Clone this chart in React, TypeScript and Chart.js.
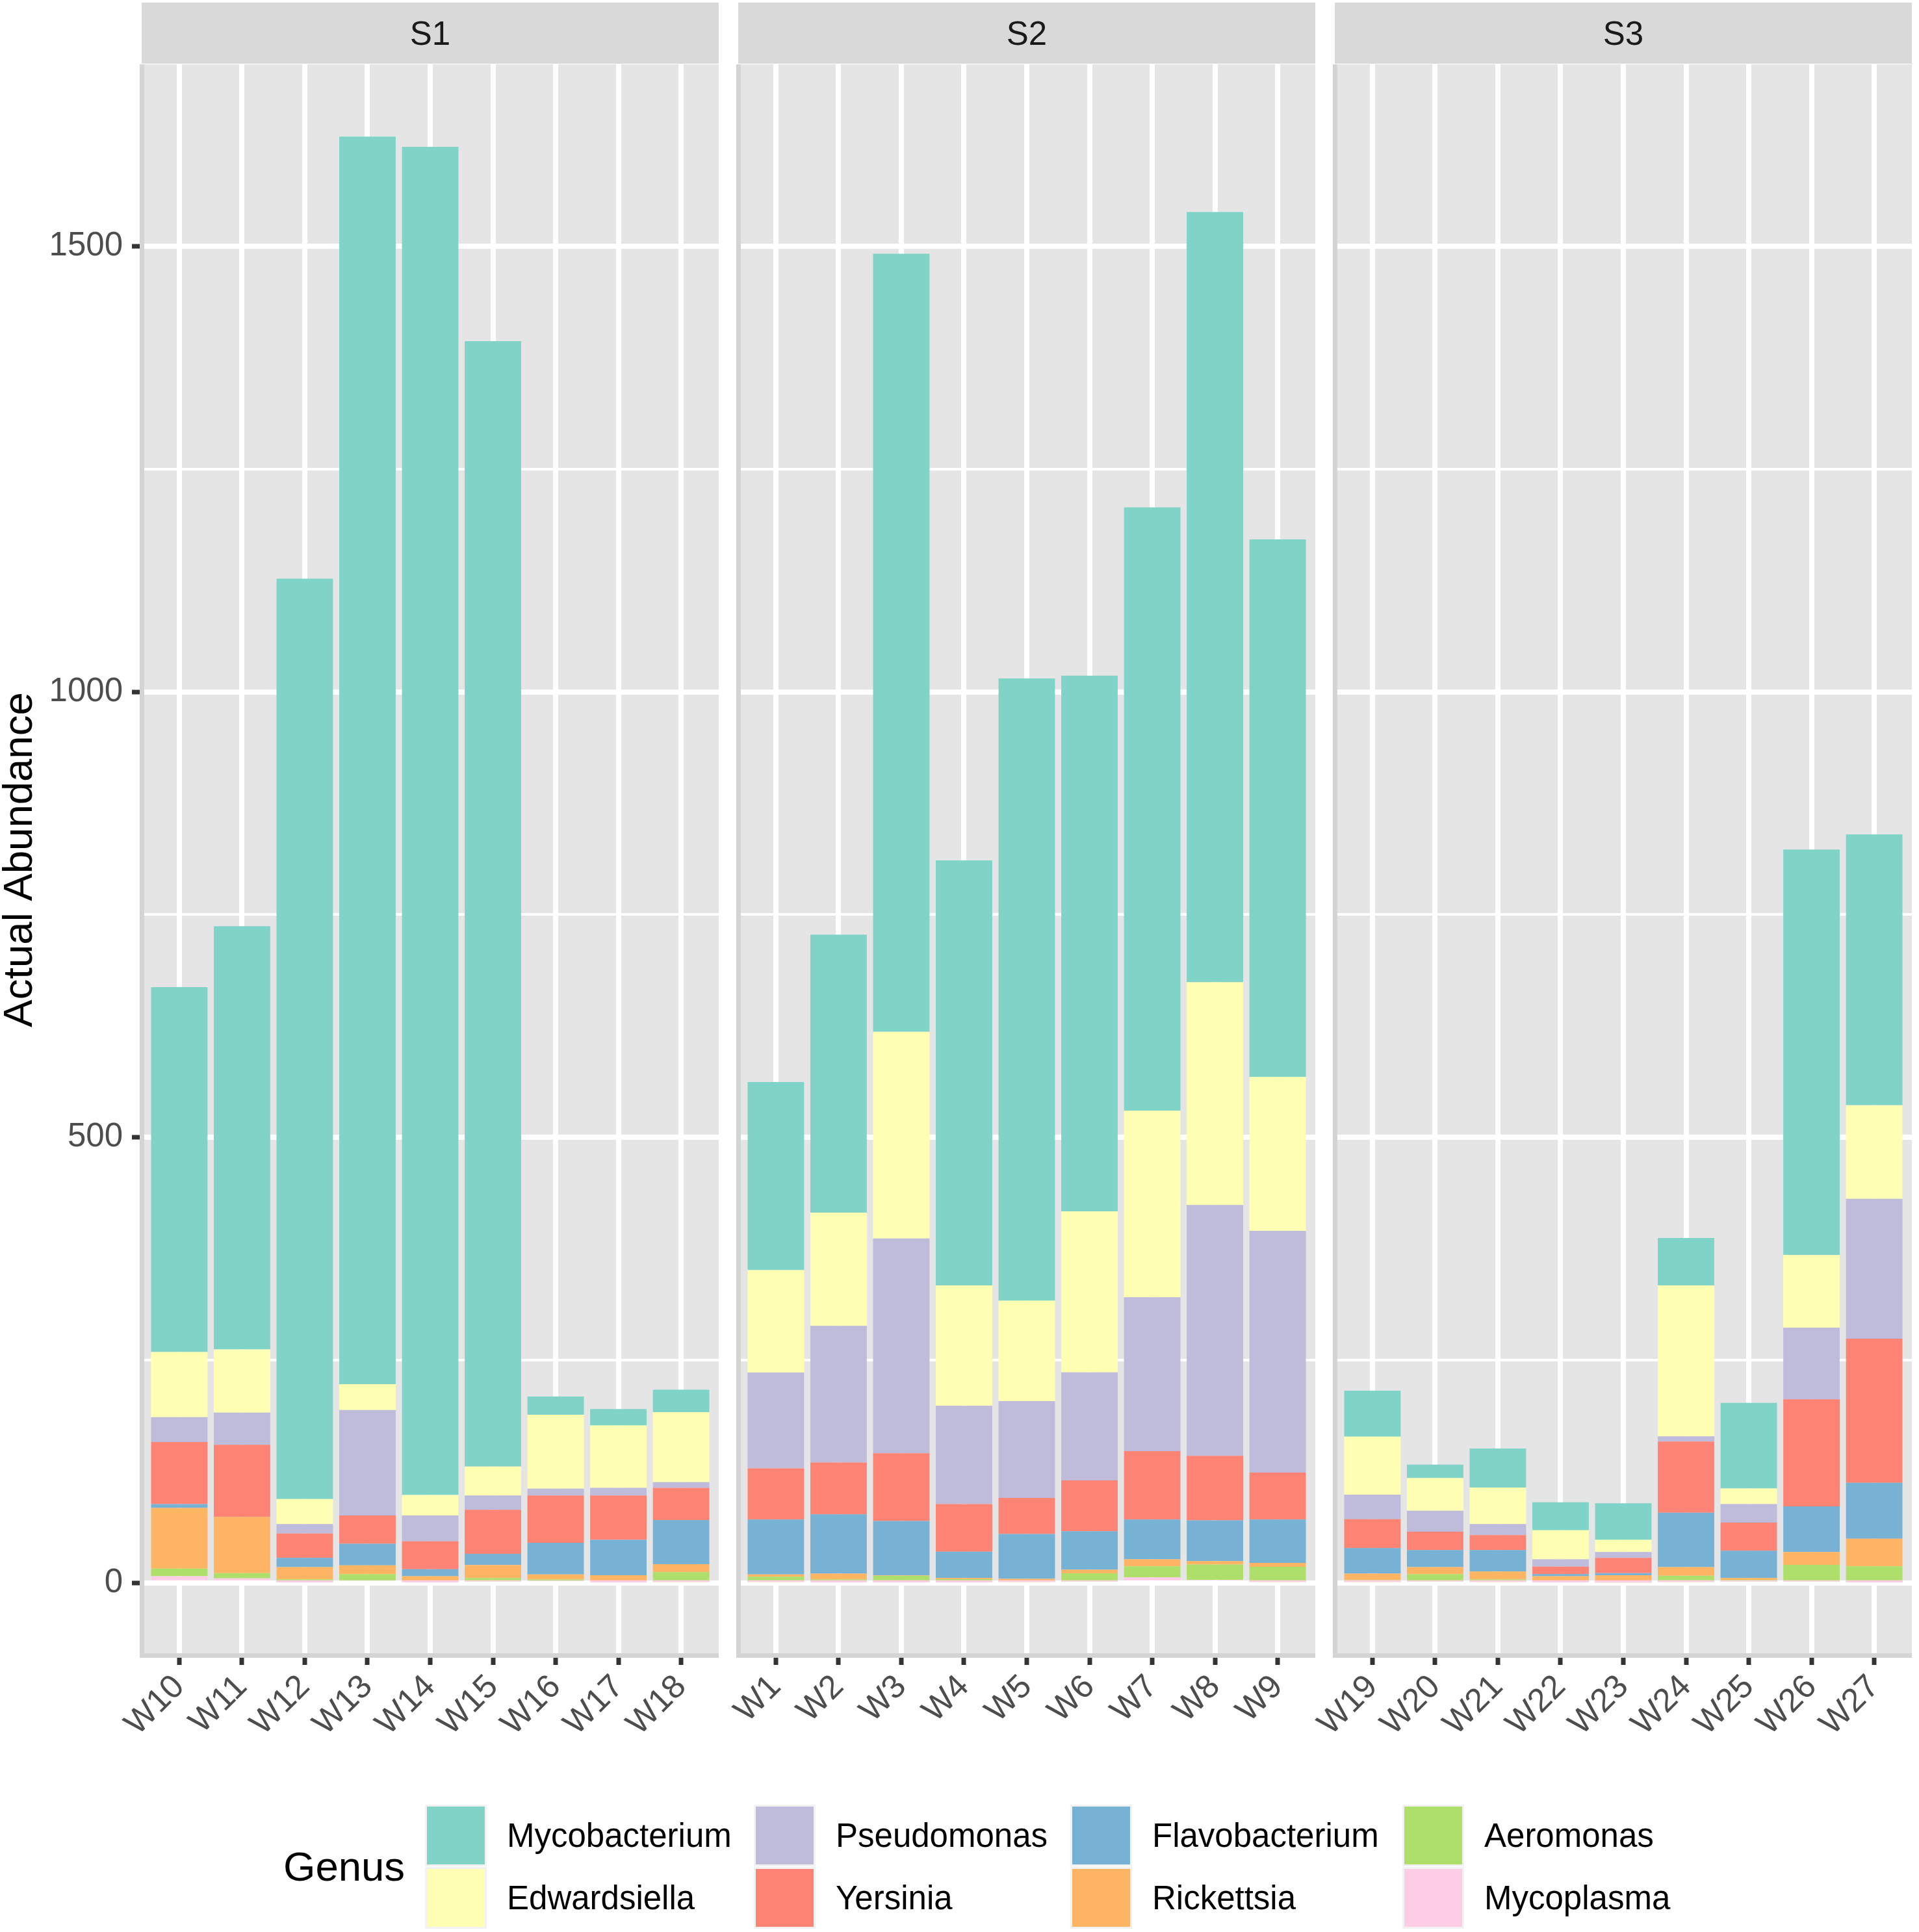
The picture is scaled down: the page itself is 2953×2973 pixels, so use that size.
import React, { useEffect, useRef } from 'react';
import { Chart, registerables } from 'chart.js';

Chart.register(...registerables);

// ---------------- data ----------------
const PANELS = ['S1', 'S2', 'S3'];
const S1_SAMPLES = ['W10', 'W11', 'W12', 'W13', 'W14', 'W15', 'W16', 'W17', 'W18'];
const S2_SAMPLES = ['W1', 'W2', 'W3', 'W4', 'W5', 'W6', 'W7', 'W8', 'W9'];
const S3_SAMPLES = ['W19', 'W20', 'W21', 'W22', 'W23', 'W24', 'W25', 'W26', 'W27'];
const PANEL_SAMPLES = [S1_SAMPLES, S2_SAMPLES, S3_SAMPLES];

const Y_MAJOR = [0, 500, 1000, 1500];
const Y_MINOR = [250, 750, 1250];

// values in sample order: S1 (W10..W18), S2 (W1..W9), S3 (W19..W27)
const Mycoplasma = [7.5, 5, 0.5, 2.6, 0.5, 1.6, 2.3, 0.5, 1, 1, 0.5, 0.5, 0.5, 1, 1.6, 6.2, 3.3, 1, 1, 1.6, 1, 0.5, 0.3, 1, 1.6, 1.6, 0.5];
const Aeromonas = [8.5, 6, 3.5, 7.2, 0.5, 3.9, 1.6, 1.8, 11, 5.9, 3.4, 7.5, 3.7, 1.3, 9.2, 12.4, 17.3, 17, 2, 8.2, 2.9, 0.3, 0.2, 7, 1.7, 18.6, 18.1];
const Rickettsia = [68, 63, 13.6, 9.8, 6.5, 14.5, 5.6, 6.2, 9, 2.6, 6.5, 0.5, 1.3, 2.3, 3.9, 7.8, 3.9, 4.5, 7.4, 7.8, 8.8, 6.7, 8, 9.6, 2.2, 14.4, 31];
const Flavobacterium = [4.5, 0, 10.4, 24.4, 7.8, 12.6, 35.5, 39.8, 49.5, 61.5, 66.6, 61, 29.5, 50.2, 43.3, 44.6, 45.7, 48.5, 28.6, 19.3, 24.2, 2.3, 2.5, 61.1, 30.5, 51.2, 62.7];
const Yersinia = [69.5, 81, 27.5, 31.7, 31.4, 49.4, 53, 49.7, 36.2, 57.6, 58, 76, 53.4, 40.5, 57, 76.8, 72.4, 52.7, 32.5, 20.5, 16.6, 8.5, 17, 79.9, 31.6, 120.2, 161.7];
const Pseudomonas = [28, 36, 10.5, 118.3, 29, 16, 7.7, 8.7, 6.3, 107.4, 153.5, 241, 110.4, 108.7, 121.3, 172.7, 281.4, 271.3, 27.5, 23.6, 12.5, 8.1, 6.6, 5.9, 20.8, 80.5, 157];
const Edwardsiella = [73, 71, 28, 29, 22.9, 32.5, 83, 70, 78.6, 115, 127, 232, 135, 112.6, 180.7, 209.5, 250, 172.7, 65, 36.5, 41, 32.6, 13.7, 169.4, 17.6, 81.5, 105];
const Mycobacterium = [409.5, 475, 1033, 1400, 1513, 1263, 20.4, 18.4, 25.1, 211, 312, 873, 477, 698.4, 601, 677, 864.5, 603.3, 51.7, 15.3, 43.8, 31.4, 41.1, 53.1, 96, 455, 304];

// stacking order: first = bottom
const GENERA = [
  { name: 'Mycoplasma', values: Mycoplasma, color: '#FDCDE5' },
  { name: 'Aeromonas', values: Aeromonas, color: '#AFDF6B' },
  { name: 'Rickettsia', values: Rickettsia, color: '#FDB564' },
  { name: 'Flavobacterium', values: Flavobacterium, color: '#77B1D3' },
  { name: 'Yersinia', values: Yersinia, color: '#FD8374' },
  { name: 'Pseudomonas', values: Pseudomonas, color: '#BFBBDA' },
  { name: 'Edwardsiella', values: Edwardsiella, color: '#FFFFB4' },
  { name: 'Mycobacterium', values: Mycobacterium, color: '#80D3C7' },
];

// legend layout (column-major, as in the reference)
const LEGEND_ORDER = [
  'Mycobacterium', 'Edwardsiella',
  'Pseudomonas', 'Yersinia',
  'Flavobacterium', 'Rickettsia',
  'Aeromonas', 'Mycoplasma',
];

// ---------------- layout ----------------
const FONT = '"Liberation Sans", Arial, Helvetica, sans-serif';
const PANEL_LEFTS = [218, 1136, 2054];
const PANEL_W = 888;
const PANEL_TOP = 99;
const PANEL_BOTTOM = 2547;
const Y_AXIS_W = 218;
const X_AXIS_H = 140;
const STRIP_TOP = 4;
const STRIP_H = 94;
const LEGEND_COL_X = [654, 1160, 1647, 2158];
const LEGEND_LABEL_DX = 126;
const LEGEND_ROW_Y = [2777, 2873];
const KEY = 95;

const totals = Mycobacterium.map((_, i) => GENERA.reduce((s, g) => s + g.values[i], 0));
const maxTotal = Math.max(...totals);
const Y_MIN = -0.05 * maxTotal;
const Y_MAX = 1.05 * maxTotal;

const panelBg = {
  id: 'panelBg',
  beforeDraw(chart: any) {
    const { ctx, chartArea: a } = chart;
    ctx.save();
    ctx.fillStyle = '#E5E5E5';
    ctx.fillRect(a.left, a.top, a.right - a.left, a.bottom - a.top);
    ctx.restore();
  },
};

function PanelChart({ index }: { index: number }) {
  const ref = useRef<HTMLCanvasElement | null>(null);
  const cats = PANEL_SAMPLES[index];
  const start = PANEL_SAMPLES.slice(0, index).reduce((s, a) => s + a.length, 0);
  const showY = index === 0;
  const width = Y_AXIS_W + PANEL_W;
  const height = PANEL_BOTTOM - PANEL_TOP + X_AXIS_H;

  useEffect(() => {
    if (!ref.current) return;
    const isMajor = (v: number) => Y_MAJOR.includes(v);
    const chart = new Chart(ref.current, {
      type: 'bar',
      data: {
        datasets: GENERA.map((g) => ({
          label: g.name,
          data: g.values.slice(start, start + cats.length).map((v, i) => ({ x: i, y: v })),
          backgroundColor: g.color,
          borderWidth: 0,
          barPercentage: 0.9,
          categoryPercentage: 1,
        })),
      },
      options: {
        animation: false,
        responsive: false,
        maintainAspectRatio: false,
        devicePixelRatio: 1,
        events: [],
        layout: { padding: 0 },
        plugins: { legend: { display: false }, tooltip: { enabled: false }, title: { display: false } },
        scales: {
          x: {
            type: 'linear',
            stacked: true,
            offset: false,
            min: -0.6,
            max: cats.length - 1 + 0.6,
            afterBuildTicks: (s: any) => {
              s.ticks = cats.map((_, i) => ({ value: i }));
            },
            afterFit: (s: any) => {
              s.height = X_AXIS_H;
              s.paddingLeft = 0;
              s.paddingRight = 0;
            },
            ticks: {
              autoSkip: false,
              maxRotation: 45,
              minRotation: 45,
              padding: 4,
              color: '#4D4D4D',
              font: { family: FONT, size: 51 },
              callback: (v: any) => cats[v] ?? '',
            },
            grid: {
              offset: false,
              color: '#FFFFFF',
              lineWidth: 8,
              drawTicks: true,
              tickLength: 15,
              tickColor: '#333333',
              tickWidth: 7,
            },
            border: { display: true, color: '#D4D4D4', width: 7 },
          },
          y: {
            type: 'linear',
            stacked: true,
            min: Y_MIN,
            max: Y_MAX,
            afterBuildTicks: (s: any) => {
              s.ticks = [...Y_MAJOR, ...Y_MINOR].sort((a, b) => a - b).map((v) => ({ value: v }));
            },
            afterFit: (s: any) => {
              s.width = Y_AXIS_W;
              s.paddingTop = 0;
              s.paddingBottom = 0;
            },
            ticks: {
              display: showY,
              padding: 14,
              color: '#4D4D4D',
              font: { family: FONT, size: 51 },
              callback: (v: any) => (isMajor(v) ? String(v) : ''),
            },
            grid: {
              color: '#FFFFFF',
              lineWidth: (c: any) => (c.tick && isMajor(c.tick.value) ? 8 : 4),
              drawTicks: showY,
              tickLength: 15,
              tickColor: (c: any) => (c.tick && isMajor(c.tick.value) ? '#333333' : 'rgba(0,0,0,0)'),
              tickWidth: 7,
            },
            border: { display: true, color: '#D4D4D4', width: 7 },
            title: {
              display: showY,
              text: 'Actual Abundance',
              color: '#000000',
              padding: 0,
              font: { family: FONT, size: 63.5, lineHeight: 1 },
            },
          },
        },
      } as any,
      plugins: [panelBg],
    });
    return () => chart.destroy();
  }, [index]);

  return (
    <canvas
      ref={ref}
      width={width}
      height={height}
      style={{
        position: 'absolute',
        left: PANEL_LEFTS[index] - Y_AXIS_W,
        top: PANEL_TOP,
        width,
        height,
      }}
    />
  );
}

export default function App() {
  const colorOf = (name: string) => GENERA.find((g) => g.name === name)!.color;
  return (
    <div
      style={{
        position: 'absolute',
        left: 0,
        top: 0,
        width: 2953,
        height: 2973,
        background: '#FFFFFF',
        overflow: 'hidden',
        fontFamily: FONT,
      }}
    >
      {PANELS.map((p, i) => (
        <div
          key={p}
          style={{
            position: 'absolute',
            left: PANEL_LEFTS[i],
            top: STRIP_TOP,
            width: PANEL_W,
            height: STRIP_H,
            background: '#D9D9D9',
            color: '#1A1A1A',
            fontSize: 51,
            display: 'flex',
            alignItems: 'center',
            justifyContent: 'center',
          }}
        >
          {p}
        </div>
      ))}
      {PANELS.map((p, i) => (
        <PanelChart key={'c' + p} index={i} />
      ))}
      <div
        style={{
          position: 'absolute',
          left: 436,
          top: LEGEND_ROW_Y[0] + KEY - 40,
          height: 80,
          lineHeight: '80px',
          fontSize: 63.5,
          color: '#000000',
        }}
      >
        Genus
      </div>
      {LEGEND_ORDER.map((name, k) => {
        const col = Math.floor(k / 2);
        const row = k % 2;
        const x = LEGEND_COL_X[col];
        const y = LEGEND_ROW_Y[row];
        return (
          <React.Fragment key={name}>
            <div
              style={{
                position: 'absolute',
                left: x,
                top: y,
                width: KEY,
                height: KEY,
                background: '#F2F2F2',
              }}
            >
              <div
                style={{
                  position: 'absolute',
                  left: 3,
                  top: 3,
                  width: KEY - 6,
                  height: KEY - 6,
                  background: colorOf(name),
                }}
              />
            </div>
            <div
              style={{
                position: 'absolute',
                left: x + LEGEND_LABEL_DX,
                top: y,
                height: KEY,
                lineHeight: KEY + 'px',
                fontSize: 51,
                color: '#000000',
                whiteSpace: 'nowrap',
              }}
            >
              {name}
            </div>
          </React.Fragment>
        );
      })}
    </div>
  );
}
